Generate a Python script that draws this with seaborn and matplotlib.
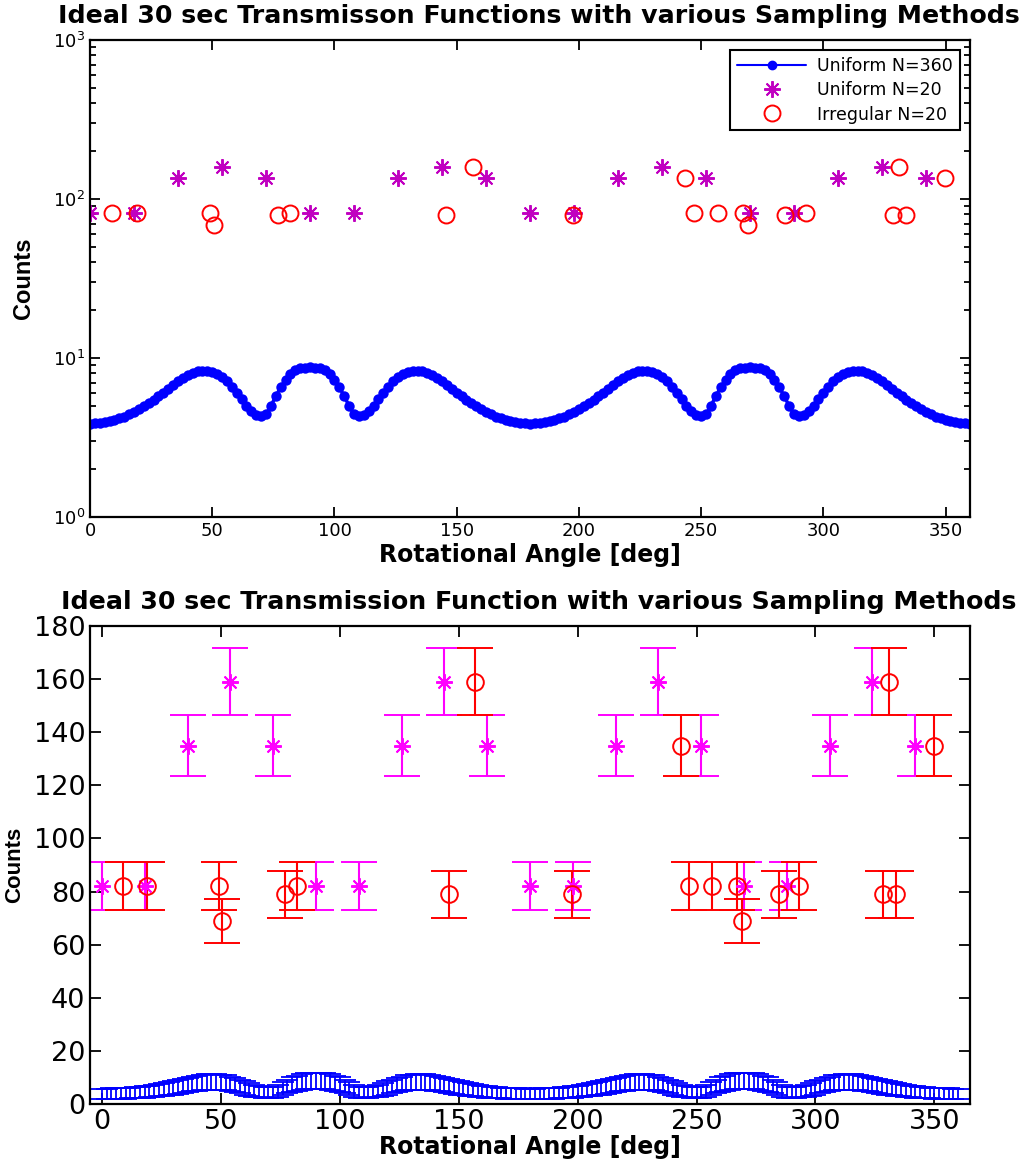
import numpy as np
import pandas as pd
import matplotlib
matplotlib.use('Agg')
import matplotlib.pyplot as plt
from matplotlib.lines import Line2D
import seaborn as sns

# ideal transmission function, read every 2 deg
angle_fine = list(range(0, 362, 2))
counts_fine = [
    3.87, 3.88, 3.90, 3.94, 4.00, 4.07, 4.17, 4.28, 4.42, 4.58,
    4.76, 4.98, 5.22, 5.48, 5.76, 6.05, 6.40, 6.80, 7.15, 7.50,
    7.85, 8.10, 8.28, 8.33, 8.30, 8.18, 7.95, 7.60, 7.15, 6.60,
    6.05, 5.50, 5.00, 4.62, 4.40, 4.35, 4.42, 5.00, 5.75, 6.55,
    7.30, 7.90, 8.35, 8.60, 8.72, 8.76, 8.72, 8.60, 8.35, 7.90,
    7.30, 6.55, 5.75, 5.00, 4.42, 4.35, 4.40, 4.62, 5.00, 5.50,
    6.05, 6.60, 7.15, 7.60, 7.95, 8.18, 8.30, 8.33, 8.28, 8.10,
    7.85, 7.50, 7.15, 6.80, 6.40, 6.05, 5.76, 5.48, 5.22, 4.98,
    4.76, 4.58, 4.42, 4.28, 4.17, 4.07, 4.00, 3.94, 3.90, 3.88,
    3.87, 3.88, 3.90, 3.94, 4.00, 4.07, 4.17, 4.28, 4.42, 4.58,
    4.76, 4.98, 5.22, 5.48, 5.76, 6.05, 6.40, 6.80, 7.15, 7.50,
    7.85, 8.10, 8.28, 8.33, 8.30, 8.18, 7.95, 7.60, 7.15, 6.60,
    6.05, 5.50, 5.00, 4.62, 4.40, 4.35, 4.42, 5.00, 5.75, 6.55,
    7.30, 7.90, 8.35, 8.60, 8.72, 8.76, 8.72, 8.60, 8.35, 7.90,
    7.30, 6.55, 5.75, 5.00, 4.42, 4.35, 4.40, 4.62, 5.00, 5.50,
    6.05, 6.60, 7.15, 7.60, 7.95, 8.18, 8.30, 8.33, 8.28, 8.10,
    7.85, 7.50, 7.15, 6.80, 6.40, 6.05, 5.76, 5.48, 5.22, 4.98,
    4.76, 4.58, 4.42, 4.28, 4.17, 4.07, 4.00, 3.94, 3.90, 3.88,
    3.87,
]

# uniform sampling, N=20
angle_uni = [0, 18, 36, 54, 72, 90, 108, 126, 144, 162,
             180, 198, 216, 234, 252, 270, 288, 306, 324, 342]
counts_uni = [82, 82, 135, 159, 135, 82, 82, 135, 159, 135,
              82, 82, 135, 159, 135, 82, 82, 135, 159, 135]

# irregular sampling, N=20
angle_irr = [8.9, 19.1, 49.2, 50.6, 77.0, 82.0, 145.8, 156.7, 197.6, 243.3,
             247.0, 256.7, 267.2, 269.2, 284.5, 293.1, 328.6, 330.8, 333.7, 349.8]
counts_irr = [82, 82, 82, 69, 79, 82, 79, 159, 79, 135,
              82, 82, 82, 69, 79, 82, 79, 159, 79, 135]

fine = pd.DataFrame({'angle': angle_fine, 'counts': counts_fine})

sns.set_style('ticks')
plt.rcParams['font.family'] = ['DejaVu Sans']
plt.rcParams['mathtext.fontset'] = 'dejavusans'
plt.rcParams['xtick.direction'] = 'in'
plt.rcParams['ytick.direction'] = 'in'
for k in ('text.color', 'axes.labelcolor', 'xtick.color', 'ytick.color', 'axes.edgecolor'):
    plt.rcParams[k] = 'black'

magenta_dark = '#c000c0'
magenta = '#ff00ff'

fig = plt.figure(figsize=(10.36, 11.64), dpi=100)
ax1 = fig.add_axes([0.0869, 0.5558, 0.8494, 0.4098])
ax2 = fig.add_axes([0.0869, 0.0515, 0.8494, 0.4107])

# ---- top: log scale
sns.lineplot(data=fine, x='angle', y='counts', ax=ax1, color='blue',
             marker='o', markersize=7.5, markeredgewidth=0, linewidth=2.5)
ax1.plot(angle_uni, counts_uni, linestyle='none', marker=(8, 2, 0),
         markersize=12, color=magenta_dark, markeredgewidth=1.4)
ax1.plot(angle_irr, counts_irr, linestyle='none', marker='o', markersize=11.5,
         markerfacecolor='none', markeredgecolor='red', markeredgewidth=1.4)
ax1.set_yscale('log')
ax1.set_xlim(0, 360)
ax1.set_ylim(1, 1000)
ax1.set_xticks([0, 50, 100, 150, 200, 250, 300, 350])
ax1.tick_params(which='both', top=True, right=True, labelsize=13, width=1.3)
ax1.tick_params(which='major', length=7)
ax1.tick_params(which='minor', length=4)
ax1.set_xlabel('Rotational Angle [deg]', fontsize=17, fontweight='bold', labelpad=2)
ax1.set_ylabel('Counts', fontsize=17, fontweight='bold', family='Liberation Sans')
ax1.yaxis.set_label_coords(-0.063, 0.5)
ax1.set_title('Ideal 30 sec Transmisson Functions with various Sampling Methods',
              fontsize=18.2, fontweight='bold', pad=12, x=0.51)

handles = [
    Line2D([], [], color='blue', marker='o', markersize=6, linewidth=1.5),
    Line2D([], [], color=magenta_dark, marker=(8, 2, 0), markersize=12,
           markeredgewidth=1.4, linestyle='none'),
    Line2D([], [], color='red', marker='o', markersize=11.5, markerfacecolor='none',
           markeredgewidth=1.4, linestyle='none'),
]
leg = ax1.legend(handles, ['Uniform N=360', 'Uniform N=20', 'Irregular N=20'],
                 loc='upper right', fontsize=12.5, frameon=True, fancybox=False,
                 edgecolor='black', handlelength=4, borderaxespad=0.6,
                 labelspacing=0.35, borderpad=0.4, handletextpad=0.6)
leg.get_frame().set_linewidth(1.5)
leg.get_frame().set_alpha(1)

# ---- bottom: linear with sqrt(N) error bars
ax2.errorbar(angle_fine, counts_fine, yerr=np.sqrt(counts_fine), color='blue',
             linestyle='none', capsize=8, elinewidth=1.3, capthick=1.3)
ax2.errorbar(angle_uni, counts_uni, yerr=np.sqrt(counts_uni), color=magenta,
             linestyle='none', marker=(8, 2, 0), markersize=12, markeredgewidth=1.4,
             capsize=13, elinewidth=1.5, capthick=1.5)
ax2.errorbar(angle_irr, counts_irr, yerr=np.sqrt(counts_irr), color='red',
             linestyle='none', marker='o', markersize=12, markerfacecolor='none',
             markeredgewidth=1.4, capsize=13, elinewidth=1.5, capthick=1.5)
ax2.set_xlim(-5, 365)
ax2.set_ylim(0, 180)
ax2.set_xticks([0, 50, 100, 150, 200, 250, 300, 350])
ax2.set_yticks(range(0, 181, 20))
ax2.tick_params(which='both', top=True, right=True, labelsize=19.5, length=8, width=1.3)
ax2.set_xlabel('Rotational Angle [deg]', fontsize=17, fontweight='bold', labelpad=0)
ax2.set_ylabel('Counts', fontsize=16, fontweight='bold', family='Liberation Sans')
ax2.yaxis.set_label_coords(-0.074, 0.5)
ax2.set_title('Ideal 30 sec Transmission Function with various Sampling Methods',
              fontsize=18.2, fontweight='bold', pad=12, x=0.51)

for ax in (ax1, ax2):
    for s in ax.spines.values():
        s.set_linewidth(1.6)

plt.savefig('out.png', dpi=100)
